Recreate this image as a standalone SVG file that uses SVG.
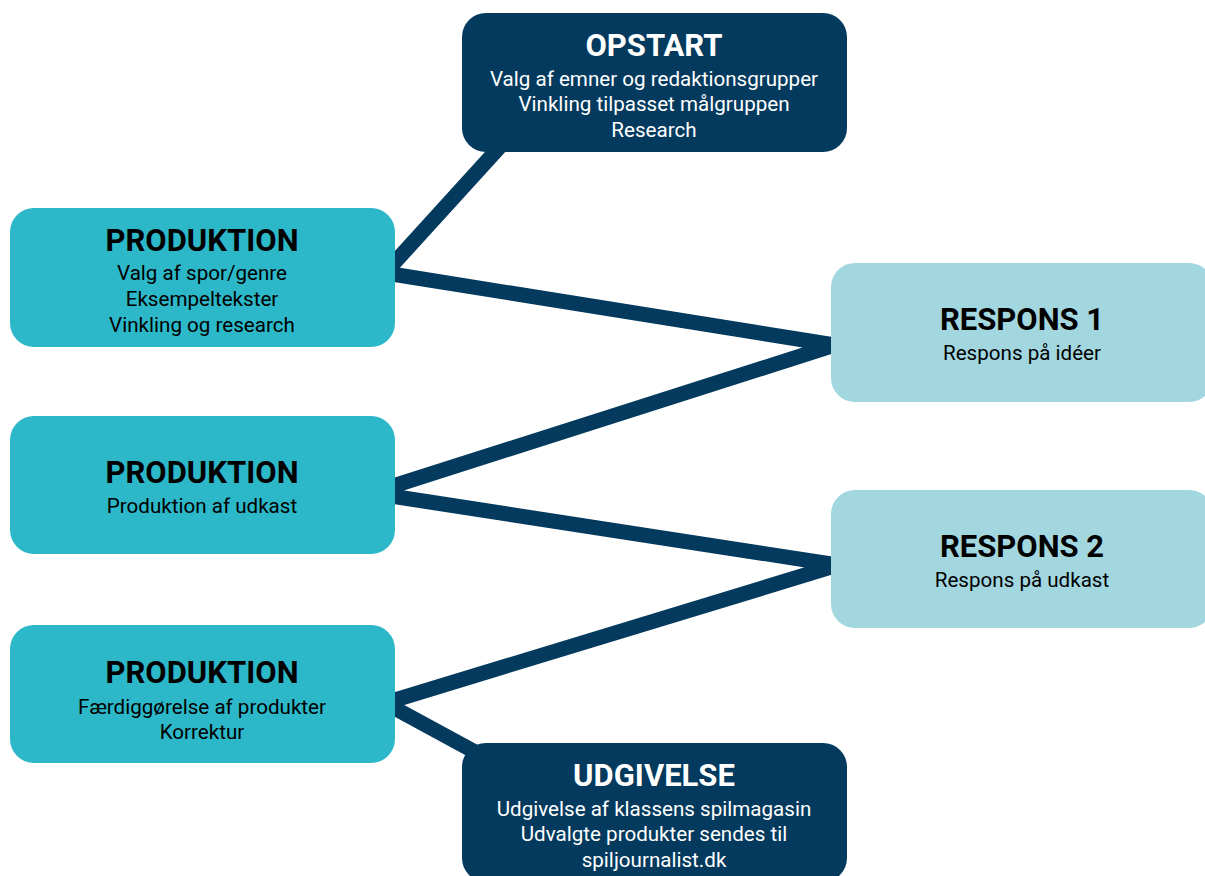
<svg xmlns="http://www.w3.org/2000/svg" width="1205" height="876" viewBox="0 0 1205 876">
<style>
.navy{fill:#033a5d}
.teal{fill:#2cb8c8}
.light{fill:#a3d7e0}
.t{font-family:Roboto,"Liberation Sans",sans-serif;font-weight:bold;font-size:31px;text-anchor:middle}
.b{font-family:Roboto,"Liberation Sans",sans-serif;font-size:20.6px;text-anchor:middle}
.dk{fill:#000}
.wh{fill:#fff}
</style>
<rect width="1205" height="876" fill="#fff"/>
<g id="connectors">
<polyline points="505,141 385,273 835,345 371,493 838,565 385,703 490,760" fill="none" stroke="#033a5d" stroke-width="15" stroke-linejoin="miter" stroke-miterlimit="10"/>
</g>
<g id="opstart">
<rect class="navy" x="462" y="13" width="385" height="139" rx="24"/>
<text class="t wh" x="654" y="56">OPSTART</text>
<text class="b wh" x="654" y="86">Valg af emner og redaktionsgrupper</text>
<text class="b wh" x="654" y="111">Vinkling tilpasset målgruppen</text>
<text class="b wh" x="654" y="137">Research</text>
</g>
<g id="produktion1">
<rect class="teal" x="10" y="208" width="385" height="139" rx="24"/>
<text class="t dk" x="202" y="251">PRODUKTION</text>
<text class="b dk" x="202" y="280">Valg af spor/genre</text>
<text class="b dk" x="202" y="306">Eksempeltekster</text>
<text class="b dk" x="202" y="332">Vinkling og research</text>
</g>
<g id="produktion2">
<rect class="teal" x="10" y="416" width="385" height="138" rx="24"/>
<text class="t dk" x="202" y="483">PRODUKTION</text>
<text class="b dk" x="202" y="513">Produktion af udkast</text>
</g>
<g id="produktion3">
<rect class="teal" x="10" y="625" width="385" height="138" rx="24"/>
<text class="t dk" x="202" y="683">PRODUKTION</text>
<text class="b dk" x="202" y="714">Færdiggørelse af produkter</text>
<text class="b dk" x="202" y="739">Korrektur</text>
</g>
<g id="respons1">
<rect class="light" x="831" y="263" width="382" height="139" rx="24"/>
<text class="t dk" x="1022" y="330">RESPONS 1</text>
<text class="b dk" x="1022" y="360">Respons på idéer</text>
</g>
<g id="respons2">
<rect class="light" x="831" y="490" width="382" height="138" rx="24"/>
<text class="t dk" x="1022" y="557">RESPONS 2</text>
<text class="b dk" x="1022" y="587">Respons på udkast</text>
</g>
<g id="udgivelse">
<rect class="navy" x="462" y="743" width="385" height="139" rx="24"/>
<text class="t wh" x="654" y="786">UDGIVELSE</text>
<text class="b wh" x="654" y="816">Udgivelse af klassens spilmagasin</text>
<text class="b wh" x="654" y="841">Udvalgte produkter sendes til</text>
<text class="b wh" x="654" y="867">spiljournalist.dk</text>
</g>
</svg>
